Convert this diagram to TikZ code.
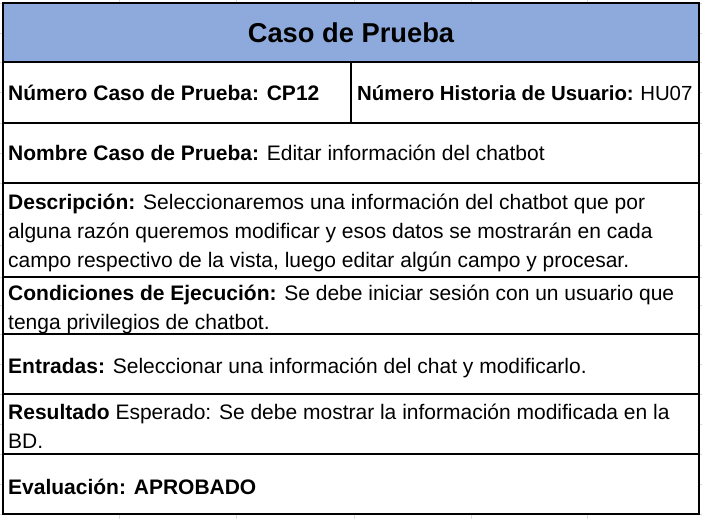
\documentclass[tikz,border=0pt]{standalone}
\usepackage{fontspec}
\setmainfont{Liberation Sans}
\definecolor{hdr}{HTML}{8EA9DB}
\definecolor{grid}{HTML}{DCDCDC}
\tikzset{
  cell/.style={anchor=base west, inner sep=0pt, font=\fontsize{21}{29}\selectfont},
  title/.style={anchor=base, inner sep=0pt, font=\fontsize{27.3}{32}\selectfont\bfseries},
  border/.style={line width=2pt, black},
  gridline/.style={line width=0.8pt, grid}
}
\begin{document}
\begin{tikzpicture}[x=1pt,y=-1pt]
\useasboundingbox (0,0) rectangle (702,519);
\fill[white] (0,0) rectangle (702,519);
% spreadsheet gridlines
\foreach \gx in {119,236,354,471,587} \draw[gridline] (\gx,0) -- (\gx,519);
\foreach \gy in {3,33,62,92,123,153,183,214,245,277,305,334,364,394,424,454,484,514} \draw[gridline] (0,\gy) -- (702,\gy);
% table
\fill[white] (3,3) rectangle (699,514);
\fill[hdr] (3,3) rectangle (699,62);
\draw[border] (3,3) rectangle (699,514);
\foreach \ry in {62,123,183,277,334,394,454} \draw[border] (3,\ry) -- (699,\ry);
\draw[border] (351,62) -- (351,123);
% texts
\node[title] (t) at (351,42.7) {Caso de Prueba};
\node[cell] (n1) at (8,100.7) {\textbf{Número Caso de Prueba: CP12}};
\node[cell, font=\fontsize{20.4}{29}\selectfont] (n2) at (357,100.7) {\textbf{Número Historia de Usuario:}\hspace{6.5pt}HU07};
\node[cell] (n3) at (8,160.7) {\textbf{Nombre Caso de Prueba:} Editar información del chatbot};
\node[cell] (d1) at (8,209) {\textbf{Descripción:} Seleccionaremos una información del chatbot que por};
\node[cell] (d2) at (8,238) {alguna razón queremos modificar y esos datos se mostrarán en cada};
\node[cell] (d3) at (8,267) {campo respectivo de la vista, luego editar algún campo y procesar.};
\node[cell] (c1) at (8,300) {\textbf{Condiciones de Ejecución:} Se debe iniciar sesión con un usuario que};
\node[cell] (c2) at (8,329) {tenga privilegios de chatbot.};
\node[cell] (e1) at (8,373) {\textbf{Entradas:} Seleccionar una información del chat y modificarlo.};
\node[cell] (r1) at (8,419) {\textbf{Resultado} Esperado: Se debe mostrar la información modificada en la};
\node[cell] (r2) at (8,448) {BD.};
\node[cell] (v1) at (8,494) {\textbf{Evaluación: APROBADO}};
\end{tikzpicture}
\end{document}
